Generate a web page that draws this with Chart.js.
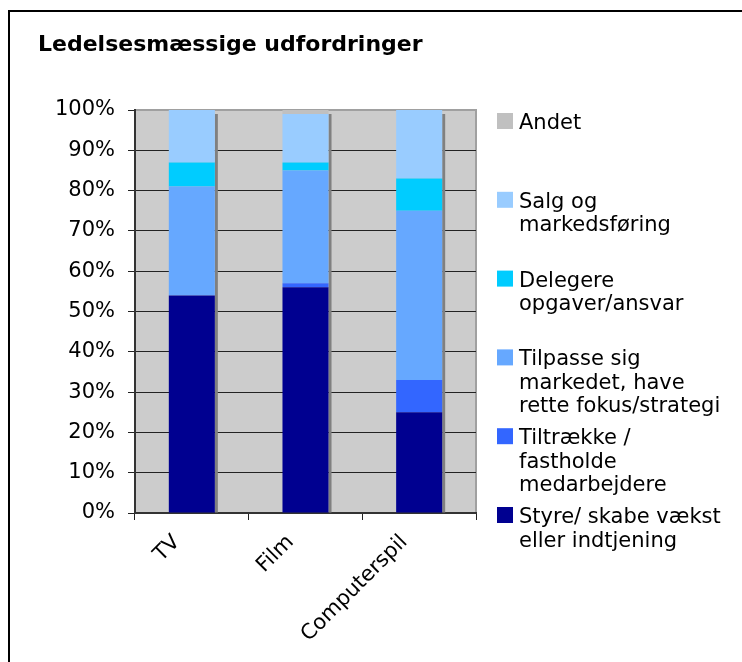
<!DOCTYPE html>
<html>
<head>
<meta charset="utf-8">
<script src="https://cdn.jsdelivr.net/npm/chart.js@4.4.0/dist/chart.umd.min.js"></script>
<style>
  body { margin: 0; background: #fff; }
  canvas { display: block; }
</style>
</head>
<body>
<canvas id="myChart" width="742" height="662"></canvas>
<script>
// data (percent of answers)
const categories = ['TV', 'Film', 'Computerspil'];
const styreVaekst = [54, 56, 25];
const tiltraekke = [0, 1, 8];
const tilpasse = [27, 28, 42];
const delegere = [6, 2, 8];
const salgMarkedsfoering = [13, 12, 17];
const andet = [0, 1, 0];
const yTickStep = 10;
const yMax = 100;

// legend text, split the way the original wraps it
const seriesNames = [
  ['Styre/ skabe vækst', 'eller indtjening'],
  ['Tiltrække /', 'fastholde', 'medarbejdere'],
  ['Tilpasse sig', 'markedet, have', 'rette fokus/strategi'],
  ['Delegere', 'opgaver/ansvar'],
  ['Salg og', 'markedsføring'],
  ['Andet']
];
const seriesValues = [styreVaekst, tiltraekke, tilpasse, delegere, salgMarkedsfoering, andet];
const seriesColors = ['#000090', '#3366ff', '#66a8ff', '#00ccff', '#99ccff', '#c0c0c0'];

const FONT = 'DejaVu Sans';

// grey plot background, plot frame and the outer box
const plotBackground = {
  id: 'plotBackground',
  beforeDraw(chart) {
    const ctx = chart.ctx;
    const a = chart.chartArea;
    ctx.save();
    ctx.fillStyle = '#fff';
    ctx.fillRect(0, 0, chart.width, chart.height);
    ctx.strokeStyle = '#000';
    ctx.lineWidth = 2;
    ctx.strokeRect(9, 11, chart.width + 20, chart.height + 20);
    ctx.fillStyle = '#cccccc';
    ctx.fillRect(a.left, a.top, a.right - a.left, a.bottom - a.top);
    ctx.strokeStyle = '#a0a0a0';
    ctx.strokeRect(a.left, a.top, a.right - a.left, a.bottom - a.top);
    ctx.restore();
  }
};

// the grey drop shadow on the right side of each column
const barShadow = {
  id: 'barShadow',
  beforeDatasetsDraw(chart) {
    const ctx = chart.ctx;
    ctx.save();
    ctx.fillStyle = '#808080';
    categories.forEach((cat, i) => {
      let top = Infinity, bottom = -Infinity, right = null;
      chart.data.datasets.forEach((ds, d) => {
        const bar = chart.getDatasetMeta(d).data[i];
        if (!bar || !ds.data[i]) return;
        top = Math.min(top, bar.y);
        bottom = Math.max(bottom, bar.base);
        right = bar.x + bar.width / 2;
      });
      if (right !== null) ctx.fillRect(right, top + 4, 3, bottom - top - 4);
    });
    ctx.restore();
  }
};

// legend on the right, top entry = top of the stack
const sideLegend = {
  id: 'sideLegend',
  afterDraw(chart) {
    const ctx = chart.ctx;
    const x = chart.chartArea.right + 21;
    let y = 129;
    ctx.save();
    ctx.font = '21px "' + FONT + '"';
    ctx.textBaseline = 'alphabetic';
    ctx.textAlign = 'left';
    for (let d = chart.data.datasets.length - 1; d >= 0; d--) {
      const ds = chart.data.datasets[d];
      ctx.fillStyle = ds.backgroundColor;
      ctx.fillRect(x, y - 16, 16, 16);
      ctx.fillStyle = '#000';
      seriesNames[d].forEach((line, l) => {
        ctx.fillText(line, x + 22, y + l * 23.5);
      });
      y += 78.8;
    }
    ctx.restore();
  }
};

const datasets = seriesValues.map((vals, i) => ({
  label: seriesNames[i].join(' '),
  data: vals,
  backgroundColor: seriesColors[i],
  borderWidth: 0,
  categoryPercentage: 1,
  barPercentage: 0.405
}));

new Chart(document.getElementById('myChart'), {
  type: 'bar',
  data: { labels: categories, datasets: datasets },
  options: {
    responsive: false,
    animation: false,
    layout: { padding: { left: 38, right: 266, top: 0, bottom: 0 } },
    plugins: {
      legend: { display: false },
      tooltip: { enabled: false },
      title: {
        display: true,
        text: 'Ledelsesmæssige udfordringer',
        align: 'start',
        color: '#000',
        font: { family: FONT, size: 22, weight: 'bold', lineHeight: 1.2 },
        padding: { top: 32, bottom: 51.6 }
      }
    },
    scales: {
      x: {
        stacked: true,
        offset: true,
        grid: { display: true, drawOnChartArea: false, offset: true, tickLength: 7, color: '#222' },
        border: { display: true, color: '#333', width: 2 },
        ticks: {
          color: '#000',
          font: { family: FONT, size: 21 },
          minRotation: 45,
          maxRotation: 45,
          labelOffset: -15,
          padding: 10
        },
        afterFit(scale) { scale.height = 149; }
      },
      y: {
        stacked: true,
        min: 0,
        max: yMax,
        grid: {
          color: (c) => (c.tick && c.tick.value === yMax ? '#a0a0a0' : '#222'),
          tickColor: '#222',
          tickLength: 7,
          lineWidth: 1
        },
        border: { display: true, color: '#333', width: 2 },
        ticks: {
          stepSize: yTickStep,
          color: '#000',
          font: { family: FONT, size: 21 },
          padding: 13,
          callback: (v) => v + '%'
        },
        afterFit(scale) { scale.width = 97; }
      }
    }
  },
  plugins: [plotBackground, barShadow, sideLegend]
});
</script>
</body>
</html>
